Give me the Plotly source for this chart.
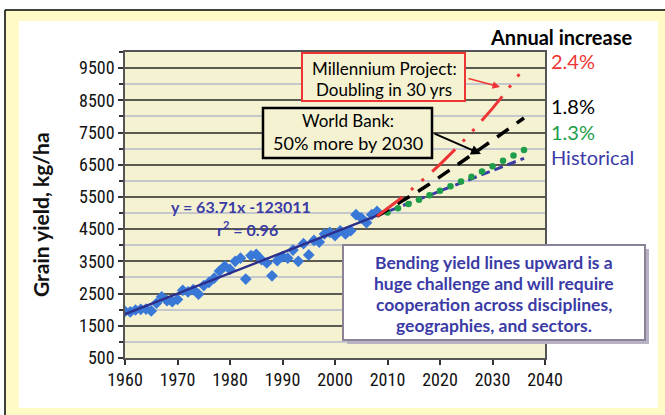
import plotly.graph_objects as go

# ---------------- data ----------------
years = list(range(1960, 2009))
yield_kg = [1950, 1930, 1990, 2010, 2020, 1960, 2200, 2400, 2280, 2250,
            2320, 2600, 2550, 2620, 2480, 2750, 2850, 2980, 3200, 3350,
            3250, 3500, 3600, 2950, 3680, 3720, 3550, 3450, 3050, 3520,
            3650, 3600, 3850, 3500, 4050, 3700, 4150, 4100, 4350, 4400,
            4300, 4450, 4350, 4450, 4950, 4850, 4700, 4950, 5050]

trend_years = [1960, 2008]
trend_vals = [1860, 4919]
hist_years = [2008, 2036]
hist_vals = [4919, 6700]

proj_years = [2008, 2010, 2012, 2014, 2016, 2018, 2020, 2022, 2024, 2026,
              2028, 2030, 2032, 2034, 2036]
red_vals = [4900, 5140, 5390, 5650, 5920, 6210, 6510, 6830, 7160, 7510,
            7870, 8250, 8650, 9070, 9500]
black_vals = [4900, 5090, 5280, 5480, 5690, 5900, 6120, 6340, 6570, 6800,
              7030, 7260, 7490, 7720, 7950]
green_years = [2010, 2012, 2014, 2016, 2018, 2020, 2022, 2024, 2026, 2028,
               2030, 2032, 2034, 2036]
green_vals = [5020, 5150, 5280, 5410, 5550, 5690, 5830, 5980, 6130, 6290,
              6450, 6620, 6790, 6960]

x_ticks = [1960, 1970, 1980, 1990, 2000, 2010, 2020, 2030, 2040]
y_ticks = [500, 1500, 2500, 3500, 4500, 5500, 6500, 7500, 8500, 9500]

# ---------------- layout helpers ----------------
W, H = 665, 415
L, R, T, B = 125, 545, 52, 358


def px(x):
    return (x - L) / (R - L)


def py(y):
    return (B - y) / (B - T)


FONT = "Lato, 'Open Sans', 'DejaVu Sans', sans-serif"
TICKFONT = "'Liberation Sans Narrow', 'Roboto Condensed', Roboto, sans-serif"
NAVY = "#3b3ba6"
RED = "#ee3535"
GREEN = "#1e9e4a"

fig = go.Figure()

fig.add_trace(go.Scatter(x=years, y=yield_kg, mode="markers",
                         marker=dict(symbol="diamond", size=9, color="#3a78d8",
                                     line=dict(width=0)),
                         showlegend=False))
fig.add_trace(go.Scatter(x=trend_years, y=trend_vals, mode="lines",
                         line=dict(color="#2c2f8c", width=2.5), showlegend=False))
fig.add_trace(go.Scatter(x=hist_years, y=hist_vals, mode="lines",
                         line=dict(color=NAVY, width=3, dash="9px,5px"),
                         showlegend=False))
fig.add_trace(go.Scatter(x=green_years, y=green_vals, mode="markers",
                         marker=dict(size=6.5, color=GREEN), showlegend=False))
fig.add_trace(go.Scatter(x=proj_years, y=black_vals, mode="lines",
                         line=dict(color="black", width=3.5, dash="14px,10px"),
                         showlegend=False))
fig.add_trace(go.Scatter(x=proj_years, y=red_vals, mode="lines",
                         line=dict(color=RED, width=3,
                                   dash="32px,11px,3px,11px,3px,11px"),
                         showlegend=False))

shapes = [
    # yellow frame with black top/left edge
    dict(type="rect", xref="paper", yref="paper", x0=px(5), x1=px(670),
         y0=py(420), y1=py(10), fillcolor="#fffac6", line=dict(width=0),
         layer="below"),
    dict(type="line", xref="paper", yref="paper", x0=px(5), x1=px(670),
         y0=py(10), y1=py(10), line=dict(color="black", width=1.5), layer="below"),
    dict(type="line", xref="paper", yref="paper", x0=px(5), x1=px(5),
         y0=py(10), y1=py(420), line=dict(color="black", width=1.5), layer="below"),
    # white panel
    dict(type="rect", xref="paper", yref="paper", x0=px(19), x1=px(658),
         y0=py(408), y1=py(21), fillcolor="white", line=dict(width=0),
         layer="below"),
    # plot area background
    dict(type="rect", xref="paper", yref="paper", x0=0, x1=1, y0=0, y1=1,
         fillcolor="#f5f2d2", line=dict(width=0), layer="below"),
    # Millennium box
    dict(type="rect", xref="paper", yref="paper", x0=px(302), x1=px(465),
         y0=py(101), y1=py(53), fillcolor="#f5f2d2",
         line=dict(color=RED, width=2), layer="above"),
    # World Bank box
    dict(type="rect", xref="paper", yref="paper", x0=px(263), x1=px(432),
         y0=py(158), y1=py(108), fillcolor="#f5f2d2",
         line=dict(color="black", width=2.5), layer="above"),
    # big message box shadow + box
    dict(type="rect", xref="paper", yref="paper", x0=px(347), x1=px(649),
         y0=py(344), y1=py(249), fillcolor="#b9b2c2", line=dict(width=0),
         layer="above"),
    dict(type="rect", xref="paper", yref="paper", x0=px(343), x1=px(645),
         y0=py(340), y1=py(245), fillcolor="white",
         line=dict(color="#8a8296", width=2), layer="above"),
]

ann = []


def text(x, y, s, size, color="black", xanchor="center", family=FONT, angle=0):
    ann.append(dict(xref="paper", yref="paper", x=px(x), y=py(y), text=s,
                    showarrow=False, xanchor=xanchor, yanchor="middle",
                    textangle=angle,
                    font=dict(size=size, color=color, family=family)))


text(40, 215, "<b>Grain yield, kg/ha</b>", 21, "#111", angle=-90)

text(561, 37, "<b>Annual increase</b>", 20)
text(549, 61, "2.4%", 20, RED, "left")
text(549, 106, "1.8%", 20, "black", "left")
text(549, 132, "1.3%", 20, GREEN, "left")
text(549, 157, "Historical", 20, NAVY, "left")

text(384, 68, "Millennium Project:", 17)
text(384, 89, "Doubling in 30 yrs", 17)
text(348, 121, "World Bank:", 17)
text(348, 143, "50% more by 2030", 18)

text(241, 206, "<b>y = 63.71x -123011</b>", 16, NAVY)
text(247, 228, "<b>r<sup>2</sup> = 0.96</b>", 16, NAVY)

for yy, s in zip([262, 283, 304, 325],
                 ["<b>Bending yield lines upward is a</b>",
                  "<b>huge challenge and will require</b>",
                  "<b>cooperation across disciplines,</b>",
                  "<b>geographies, and sectors.</b>"]):
    text(494, yy, s, 17.5, NAVY)

# arrows
ann.append(dict(xref="paper", yref="paper", x=px(500), y=py(87),
                ax=-33, ay=-9, showarrow=True, arrowhead=2, arrowsize=1,
                arrowwidth=1.5, arrowcolor=RED, text=""))
ann.append(dict(xref="paper", yref="paper", x=px(481), y=py(154),
                ax=-48, ay=-21, showarrow=True, arrowhead=2, arrowsize=1,
                arrowwidth=2, arrowcolor="black", text=""))

fig.update_layout(
    width=W, height=H, autosize=False,
    margin=dict(l=L, r=W - R, t=T, b=H - B, pad=0),
    paper_bgcolor="white", plot_bgcolor="rgba(0,0,0,0)",
    shapes=shapes, annotations=ann, showlegend=False,
    xaxis=dict(range=[1960, 2040], tickvals=x_ticks,
               ticks="outside", ticklen=5, tickcolor="#333", tickwidth=1.5,
               showgrid=False, zeroline=False,
               showline=True, linecolor="#555", linewidth=1.5, mirror=True,
               tickfont=dict(size=18, color="#111", family=TICKFONT)),
    yaxis=dict(range=[500, 10000], tickvals=y_ticks,
               ticks="outside", ticklen=5, tickcolor="#333", tickwidth=1.5,
               showgrid=True, gridcolor="#5a5a50", gridwidth=1.5,
               zeroline=False,
               showline=True, linecolor="#555", linewidth=1.5, mirror=True,
               minor=dict(dtick=500, tick0=500, showgrid=True,
                          gridcolor="#c4c8cc", gridwidth=2,
                          ticks="outside", ticklen=4, tickcolor="#333"),
               tickfont=dict(size=18, color="#111", family=TICKFONT)),
)

fig.write_html("out.html", config={"displayModeBar": False},
               post_script="document.body.style.margin='0';")
